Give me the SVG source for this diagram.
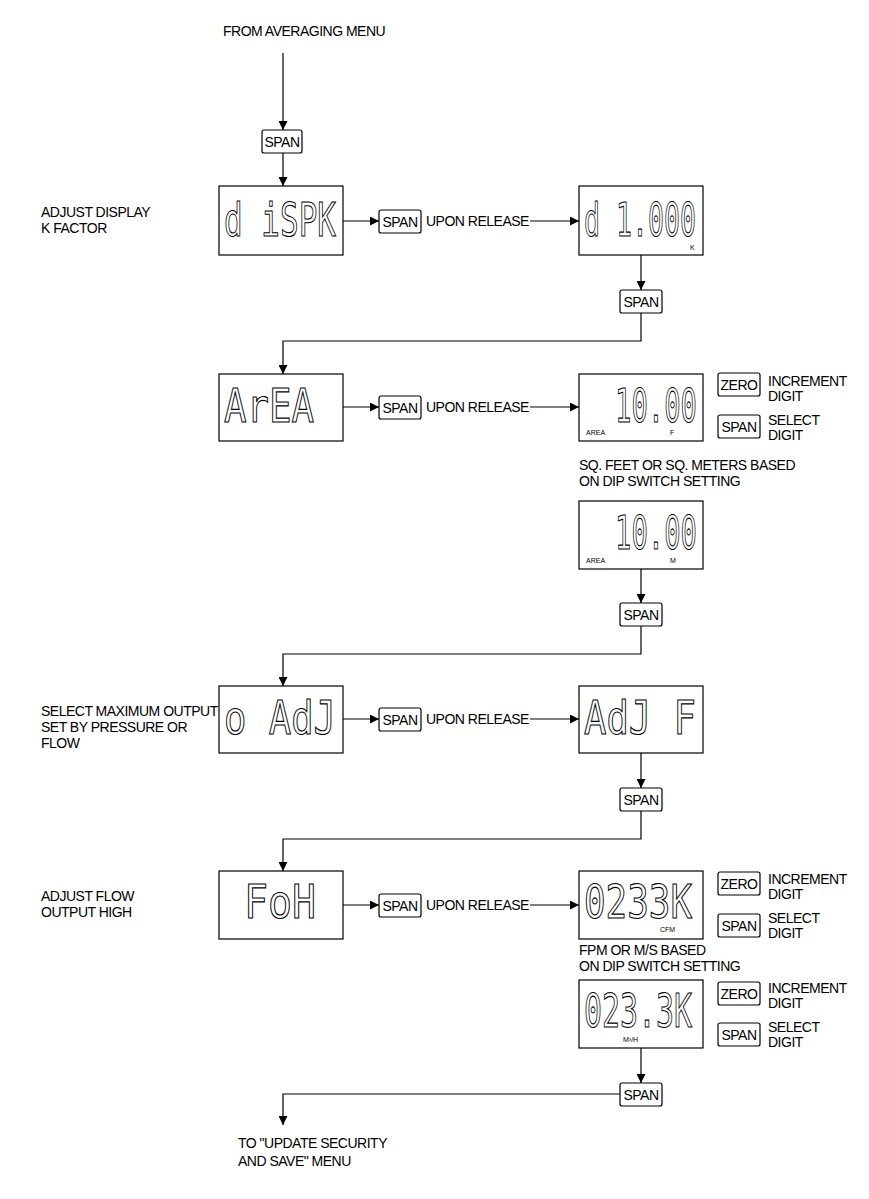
<svg xmlns="http://www.w3.org/2000/svg" width="869" height="1199" viewBox="0 0 869 1199">
<defs>
<marker id="ah" viewBox="0 0 10 10" refX="10" refY="5" markerWidth="9" markerHeight="9" markerUnits="userSpaceOnUse" orient="auto"><path d="M0,0 L10,5 L0,10 Z" fill="#000"/></marker>
</defs>
<style>
.t{font-family:"Liberation Sans",Arial,sans-serif;font-size:14px;fill:#000;letter-spacing:-0.5px}
.k{font-family:"Liberation Sans",Arial,sans-serif;font-size:14px;fill:#000;text-anchor:middle;letter-spacing:-0.5px}
.s{font-family:"Liberation Sans",Arial,sans-serif;font-size:7px;fill:#000}
.b{fill:#fff;stroke:#000;stroke-width:1.2}
.kb{fill:#fff;stroke:#000;stroke-width:1.2}
.seg{font-family:"DejaVu Sans Mono",monospace;font-size:46px;fill:#fff;stroke:#000;stroke-width:1.1}
.c{fill:none;stroke:#000;stroke-width:1.2}
</style>
<g id="connectors">
<path class="c" d="M283,53 V130" marker-end="url(#ah)"/><path class="c" d="M283,153 V186" marker-end="url(#ah)"/>
<path class="c" d="M343,221 H379" marker-end="url(#ah)"/><path class="c" d="M530,221 H579" marker-end="url(#ah)"/>
<path class="c" d="M343,407 H379" marker-end="url(#ah)"/><path class="c" d="M530,407 H579" marker-end="url(#ah)"/>
<path class="c" d="M343,719 H379" marker-end="url(#ah)"/><path class="c" d="M530,719 H579" marker-end="url(#ah)"/>
<path class="c" d="M343,905 H379" marker-end="url(#ah)"/><path class="c" d="M530,905 H579" marker-end="url(#ah)"/>
<path class="c" d="M641,255 V290" marker-end="url(#ah)"/><path class="c" d="M641,313 V341 H283 V374" marker-end="url(#ah)"/>
<path class="c" d="M641,569 V603" marker-end="url(#ah)"/><path class="c" d="M641,626 V654 H283 V686" marker-end="url(#ah)"/>
<path class="c" d="M641,753 V788" marker-end="url(#ah)"/><path class="c" d="M641,811 V839 H283 V871" marker-end="url(#ah)"/>
<path class="c" d="M641,1048 V1083" marker-end="url(#ah)"/><path class="c" d="M620,1094 H283 V1125" marker-end="url(#ah)"/>
</g>
<g id="labels">
<text class="t" x="223" y="36">FROM AVERAGING MENU</text>
<text class="t" x="41" y="217">ADJUST DISPLAY</text><text class="t" x="41" y="233">K FACTOR</text>
<text class="t" x="41" y="716">SELECT MAXIMUM OUTPUT</text><text class="t" x="41" y="732">SET BY PRESSURE OR</text><text class="t" x="41" y="748">FLOW</text>
<text class="t" x="41" y="901">ADJUST FLOW</text><text class="t" x="41" y="917">OUTPUT HIGH</text>
<text class="t" x="579" y="470">SQ. FEET OR SQ. METERS BASED</text><text class="t" x="579" y="486">ON DIP SWITCH SETTING</text>
<text class="t" x="579" y="955">FPM OR M/S BASED</text><text class="t" x="579" y="971">ON DIP SWITCH SETTING</text>
<text class="t" x="238" y="1148">TO "UPDATE SECURITY</text><text class="t" x="238" y="1166">AND SAVE" MENU</text>
<text class="t" x="426" y="226">UPON RELEASE</text><text class="t" x="426" y="412">UPON RELEASE</text>
<text class="t" x="426" y="724">UPON RELEASE</text><text class="t" x="426" y="910">UPON RELEASE</text>
<text class="t" x="768" y="386">INCREMENT</text><text class="t" x="768" y="401">DIGIT</text><text class="t" x="768" y="425">SELECT</text><text class="t" x="768" y="440">DIGIT</text>
<text class="t" x="768" y="884">INCREMENT</text><text class="t" x="768" y="899">DIGIT</text><text class="t" x="768" y="923">SELECT</text><text class="t" x="768" y="938">DIGIT</text>
<text class="t" x="768" y="993">INCREMENT</text><text class="t" x="768" y="1008">DIGIT</text><text class="t" x="768" y="1032">SELECT</text><text class="t" x="768" y="1047">DIGIT</text>
</g>
<g id="keys">
<rect class="kb" x="262" y="130" width="40" height="23" rx="2"/><text class="k" x="282" y="147">SPAN</text>
<rect class="kb" x="379" y="210" width="42" height="23" rx="2"/><text class="k" x="400" y="227">SPAN</text>
<rect class="kb" x="379" y="396" width="42" height="23" rx="2"/><text class="k" x="400" y="413">SPAN</text>
<rect class="kb" x="379" y="708" width="42" height="23" rx="2"/><text class="k" x="400" y="725">SPAN</text>
<rect class="kb" x="379" y="894" width="42" height="23" rx="2"/><text class="k" x="400" y="911">SPAN</text>
<rect class="kb" x="620" y="290" width="42" height="23" rx="2"/><text class="k" x="641" y="307">SPAN</text>
<rect class="kb" x="620" y="603" width="42" height="23" rx="2"/><text class="k" x="641" y="620">SPAN</text>
<rect class="kb" x="620" y="788" width="42" height="23" rx="2"/><text class="k" x="641" y="805">SPAN</text>
<rect class="kb" x="620" y="1083" width="42" height="23" rx="2"/><text class="k" x="641" y="1100">SPAN</text>
<rect class="kb" x="718" y="373" width="42" height="23" rx="2"/><text class="k" x="739" y="390">ZERO</text>
<rect class="kb" x="718" y="415" width="42" height="23" rx="2"/><text class="k" x="739" y="432">SPAN</text>
<rect class="kb" x="718" y="872" width="42" height="23" rx="2"/><text class="k" x="739" y="889">ZERO</text>
<rect class="kb" x="718" y="914" width="42" height="23" rx="2"/><text class="k" x="739" y="931">SPAN</text>
<rect class="kb" x="718" y="982" width="42" height="23" rx="2"/><text class="k" x="739" y="999">ZERO</text>
<rect class="kb" x="718" y="1023" width="42" height="23" rx="2"/><text class="k" x="739" y="1040">SPAN</text>
</g>
<g id="d1"><rect class="b" x="219" y="186" width="124" height="69"/><text class="seg" x="224" y="236" textLength="112" lengthAdjust="spacingAndGlyphs">d iSPK</text></g>
<g id="d2"><rect class="b" x="579" y="186" width="124" height="69"/><text class="seg" x="584" y="236" textLength="112" lengthAdjust="spacingAndGlyphs">d 1.000</text><text class="s" x="690" y="250">K</text></g>
<g id="d3"><rect class="b" x="219" y="374" width="124" height="67"/><text class="seg" x="224" y="422" textLength="90" lengthAdjust="spacingAndGlyphs">ArEA</text></g>
<g id="d4"><rect class="b" x="579" y="374" width="124" height="67"/><text class="seg" x="615" y="422" textLength="82" lengthAdjust="spacingAndGlyphs">10.00</text><text class="s" x="586" y="435">AREA</text><text class="s" x="670" y="435">F</text></g>
<g id="d5"><rect class="b" x="579" y="501" width="124" height="68"/><text class="seg" x="615" y="549" textLength="82" lengthAdjust="spacingAndGlyphs">10.00</text><text class="s" x="586" y="563">AREA</text><text class="s" x="670" y="563">M</text></g>
<g id="d6"><rect class="b" x="219" y="686" width="124" height="67"/><text class="seg" x="224" y="734" textLength="112" lengthAdjust="spacingAndGlyphs">o AdJ</text></g>
<g id="d7"><rect class="b" x="579" y="686" width="124" height="67"/><text class="seg" x="584" y="734" textLength="112" lengthAdjust="spacingAndGlyphs">AdJ F</text></g>
<g id="d8"><rect class="b" x="219" y="871" width="124" height="68"/><text class="seg" x="244" y="918" textLength="72" lengthAdjust="spacingAndGlyphs">FoH</text></g>
<g id="d9"><rect class="b" x="579" y="871" width="124" height="68"/><text class="seg" x="584" y="918" textLength="108" lengthAdjust="spacingAndGlyphs">0233K</text><text class="s" x="660" y="932">CFM</text></g>
<g id="d10"><rect class="b" x="579" y="980" width="124" height="68"/><text class="seg" x="584" y="1027" textLength="108" lengthAdjust="spacingAndGlyphs">023.3K</text><text class="s" x="623" y="1042">M³/H</text></g>
</svg>
